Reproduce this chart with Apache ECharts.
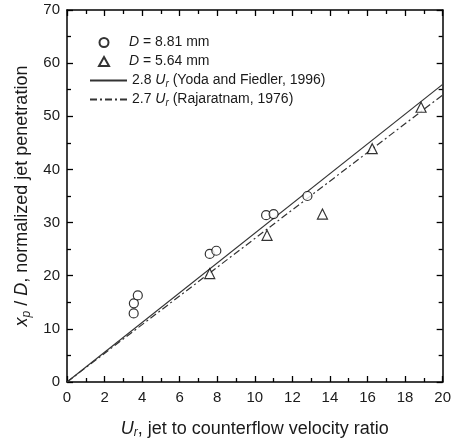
<!DOCTYPE html>
<html>
<head>
<meta charset="utf-8">
<script src="https://cdn.jsdelivr.net/npm/echarts@6/dist/echarts.min.js"></script>
<style>html,body{margin:0;padding:0;background:#fff}#c{width:454px;height:444px}</style>
</head>
<body>
<div id="c"></div>
<script>
// Data
var circleX = [3.55, 3.56, 3.77, 7.6, 7.95, 10.6, 11.0, 12.8];
var circleY = [12.9, 14.8, 16.3, 24.1, 24.7, 31.4, 31.6, 35.0];
var triX = [7.6, 10.65, 13.6, 16.25, 18.85];
var triY = [20.4, 27.6, 31.6, 43.9, 51.7];
var lineX = [0, 20];
var yodaY = [0, 56];
var rajaY = [0, 54];
var xTicks = [0, 2, 4, 6, 8, 10, 12, 14, 16, 18, 20];
var yTicks = [0, 10, 20, 30, 40, 50, 60, 70];

var names = ['D = 8.81 mm', 'D = 5.64 mm', '2.8 Ur (Yoda and Fiedler, 1996)', '2.7 Ur (Rajaratnam, 1976)'];
var legendFmt = {};
legendFmt[names[0]] = '{i|D} = 8.81 mm';
legendFmt[names[1]] = '{i|D} = 5.64 mm';
legendFmt[names[2]] = '2.8 {i|U}{s|r} (Yoda and Fiedler, 1996)';
legendFmt[names[3]] = '2.7 {i|U}{s|r} (Rajaratnam, 1976)';

function pairs(xs, ys) { return xs.map(function (x, i) { return [x, ys[i]]; }); }

var FONT = 'Liberation Sans, Arial, sans-serif';
var TXT = '#1a1a1a';
var richLeg = {
  i: { fontStyle: 'italic', fontFamily: FONT, fontSize: 14, color: TXT },
  s: { fontStyle: 'italic', fontFamily: FONT, fontSize: 10, color: TXT, verticalAlign: 'bottom', padding: [6, 0, 0, 0] }
};
var richAxis = {
  i: { fontStyle: 'italic', fontFamily: FONT, fontSize: 18, color: TXT },
  s: { fontStyle: 'italic', fontFamily: FONT, fontSize: 12, color: TXT, verticalAlign: 'bottom', padding: [8, 0, 0, 0] },
  n: { fontFamily: FONT, fontSize: 18, color: TXT }
};

var axisLine = { show: true, onZero: false, lineStyle: { color: '#000', width: 1.5 } };
function xAx(pos, labels) {
  return {
    type: 'value', position: pos, min: 0, max: 20, interval: 2,
    axisLine: axisLine,
    axisTick: { show: true, inside: true, length: 6, lineStyle: { color: '#000', width: 1.3 } },
    minorTick: { show: true, splitNumber: 2, length: 4, lineStyle: { color: '#000', width: 1.3 } },
    splitLine: { show: false }, minorSplitLine: { show: false },
    axisLabel: { show: labels, margin: 8, color: TXT, fontFamily: FONT, fontSize: 15 },
    name: labels ? '{i|U}{s|r}{n|, jet to counterflow velocity ratio}' : '',
    nameLocation: 'middle', nameGap: 37,
    nameTextStyle: { rich: richAxis, fontFamily: FONT, fontSize: 18, color: TXT }
  };
}
function yAx(pos, labels) {
  return {
    type: 'value', position: pos, min: 0, max: 70, interval: 10,
    axisLine: axisLine,
    axisTick: { show: true, inside: true, length: 6, lineStyle: { color: '#000', width: 1.3 } },
    minorTick: { show: true, splitNumber: 2, length: 4, lineStyle: { color: '#000', width: 1.3 } },
    splitLine: { show: false }, minorSplitLine: { show: false },
    axisLabel: { show: labels, margin: 7, color: TXT, fontFamily: FONT, fontSize: 15 },
    name: labels ? '{i|x}{s|p}{n| / }{i|D}{n|, normalized jet penetration}' : '',
    nameLocation: 'middle', nameGap: 28, nameRotate: 90,
    nameTextStyle: { rich: richAxis, fontFamily: FONT, fontSize: 18, color: TXT }
  };
}

var legText = { fontFamily: FONT, fontSize: 14, color: TXT, lineHeight: 17, rich: richLeg };

var chart = echarts.init(document.getElementById('c'), null, { renderer: 'canvas' });
chart.setOption({
  animation: false,
  backgroundColor: '#fff',
  grid: { left: 67, right: 9, top: 10, bottom: 61 },
  xAxis: [xAx('bottom', true), xAx('top', false)],
  yAxis: [yAx('left', true), yAx('right', false)],
  legend: [
    {
      orient: 'vertical', left: 93, top: 29,
      itemWidth: 10, itemHeight: 9, itemGap: 2,
      data: [names[0], names[1]],
      textStyle: Object.assign({ padding: [0, 0, 0, 15] }, legText),
      formatter: function (n) { return legendFmt[n]; }
    },
    {
      orient: 'vertical', left: 84, top: 67,
      itemWidth: 37, itemHeight: 9, itemGap: 2,
      data: [
        { name: names[2], itemStyle: { color: 'rgba(0,0,0,0)', borderWidth: 0 } },
        { name: names[3], itemStyle: { color: 'rgba(0,0,0,0)', borderWidth: 0 } }
      ],
      textStyle: legText,
      formatter: function (n) { return legendFmt[n]; }
    }
  ],
  series: [
    {
      name: names[2], type: 'line', xAxisIndex: 0, yAxisIndex: 0,
      data: pairs(lineX, yodaY), symbol: 'none',
      lineStyle: { color: '#333', width: 1.2, type: 'solid' }, z: 2
    },
    {
      name: names[3], type: 'line', xAxisIndex: 0, yAxisIndex: 0,
      data: pairs(lineX, rajaY), symbol: 'none',
      lineStyle: { color: '#333', width: 1.2, type: [7, 3, 2, 3] }, z: 2
    },
    {
      name: names[0], type: 'scatter', data: pairs(circleX, circleY),
      symbol: 'circle', symbolSize: 9,
      itemStyle: { color: '#fff', borderColor: '#000', borderWidth: 1.2 }, z: 3
    },
    {
      name: names[1], type: 'scatter', data: pairs(triX, triY),
      symbol: 'triangle', symbolSize: 10,
      itemStyle: { color: '#fff', borderColor: '#000', borderWidth: 1.2 }, z: 3
    }
  ]
});
</script>
</body>
</html>
